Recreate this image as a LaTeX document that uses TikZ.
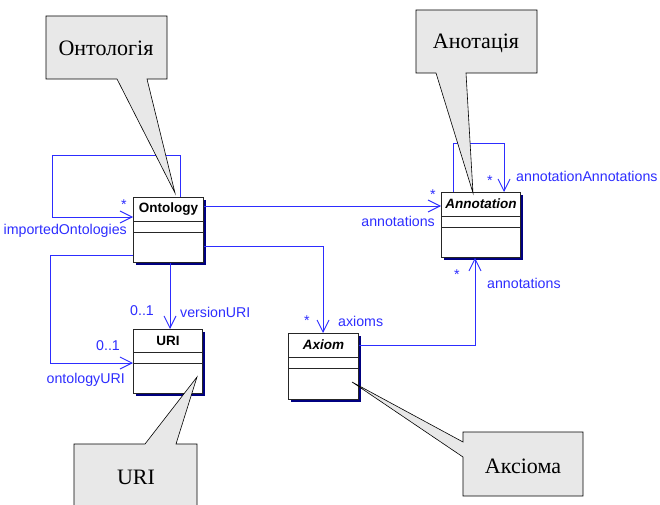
\documentclass[tikz,border=0pt]{standalone}
\usepackage{fontspec}
\setmainfont{Liberation Serif}
\setsansfont{Liberation Sans}
\usetikzlibrary{positioning,calc,arrows.meta,shadows}
\definecolor{umlblue}{RGB}{45,45,255}
\definecolor{shadownavy}{RGB}{0,0,128}
\definecolor{notegray}{RGB}{232,232,232}

\begin{document}
\begin{tikzpicture}[x=1pt,y=-1pt]
        \tikzstyle{class}=[draw=black!85, line width=0.9pt, fill=white, anchor=north west, inner sep=0pt,
            general shadow={fill=shadownavy, shadow xshift=3pt, shadow yshift=-3pt}]
        \tikzstyle{classline}=[draw=black!85, line width=0.9pt]
        \tikzstyle{classname}=[font=\sffamily\bfseries\fontsize{13.5}{15}\selectfont]
        \tikzstyle{assoc}=[draw=umlblue, line width=0.9pt, -{Straight Barb[length=12pt,width=12pt]}]
        \tikzstyle{rolelabel}=[text=umlblue, inner sep=0pt, font=\sffamily\fontsize{14.2}{16}\selectfont]
        \tikzstyle{note}=[draw=black, line width=0.6pt, fill=notegray]
        \tikzstyle{notetext}=[font=\fontsize{22}{26}\selectfont]

        \useasboundingbox (0,0) rectangle (660,505);

        % classes
        \node[class, minimum width=70pt, minimum height=65pt] (ont) at (133,197) {};
        \node[class, minimum width=69pt, minimum height=64pt] (uri) at (133,329) {};
        \node[class, minimum width=79pt, minimum height=65pt] (ann) at (441,192) {};
        \node[class, minimum width=70pt, minimum height=66pt] (ax)  at (288,333) {};

        \draw[classline] ($(ont.north west)+(0,24)$) -- ($(ont.north east)+(0,24)$);
        \draw[classline] ($(ont.north west)+(0,35)$) -- ($(ont.north east)+(0,35)$);
        \draw[classline] ($(uri.north west)+(0,23)$) -- ($(uri.north east)+(0,23)$);
        \draw[classline] ($(uri.north west)+(0,34)$) -- ($(uri.north east)+(0,34)$);
        \draw[classline] ($(ann.north west)+(0,24)$) -- ($(ann.north east)+(0,24)$);
        \draw[classline] ($(ann.north west)+(0,35)$) -- ($(ann.north east)+(0,35)$);
        \draw[classline] ($(ax.north west)+(0,24)$) -- ($(ax.north east)+(0,24)$);
        \draw[classline] ($(ax.north west)+(0,35)$) -- ($(ax.north east)+(0,35)$);

        \node[classname] (ontname) at ($(ont.north)+(0,12)$) {Ontology};
        \node[classname] (uriname) at ($(uri.north)+(0,11.5)$) {URI};
        \node[classname, font=\sffamily\bfseries\itshape\fontsize{13.5}{15}\selectfont] (annname) at ($(ann.north)+(0,12)$) {Annotation};
        \node[classname, font=\sffamily\bfseries\itshape\fontsize{13.5}{15}\selectfont] (axname) at ($(ax.north)+(0,12)$) {Axiom};

        % associations
        \draw[assoc] ($(ont.north west)+(47,0)$) -- ++(0,-42) -- ++(-128,0) |- ($(ont.north west)+(0,20)$);
        \draw[assoc] ($(ont.north east)+(0,9)$) -- ($(ann.north west)+(0,14)$);
        \draw[assoc] ($(ont.north east)+(0,49)$) -| ($(ax.north west)+(35,0)$);
        \draw[assoc] ($(ont.south west)+(37,0)$) -- ($(uri.north west)+(37,0)$);
        \draw[assoc] ($(ont.south west)+(0,-7)$) -- ++(-83,0) |- ($(uri.north west)+(0,34)$);
        \draw[assoc] ($(ann.north west)+(12,0)$) -- ++(0,-49) -| ($(ann.north west)+(63,0)$);
        \draw[assoc] ($(ax.north east)+(0,12)$) -| ($(ann.south west)+(34,0)$);

        % role names and multiplicities
        \node[rolelabel] (impmult) at (124,205) {*};
        \node[rolelabel, anchor=east] (impname) at (127,231) {importedOntologies};
        \node[rolelabel] (annmult) at (433,195) {*};
        \node[rolelabel, anchor=east] (annname1) at (435,221) {annotations};
        \node[rolelabel] (selfmult) at (490,181) {*};
        \node[rolelabel, anchor=west] (selfname) at (516,176) {annotationAnnotations};
        \node[rolelabel] (axannmult) at (457,275) {*};
        \node[rolelabel, anchor=west] (axannname) at (487,283) {annotations};
        \node[rolelabel] (axmult) at (307,321) {*};
        \node[rolelabel, anchor=west] (axname2) at (338,321) {axioms};
        \node[rolelabel] (vermult) at (142,311) {0..1};
        \node[rolelabel, anchor=west] (vername) at (180,312) {versionURI};
        \node[rolelabel] (urimult) at (108,346) {0..1};
        \node[rolelabel, anchor=east] (uriname2) at (125,380) {ontologyURI};

        % notes
        \draw[note] (46,16) -- (167,16) -- (167,79) -- (147,79) -- ($(ont.north west)+(42,-4)$) -- (117,79) -- (46,79) -- cycle;
        \node[notetext] (ontnote) at (106,48) {Онтологія};
        \draw[note] (416,10) -- (537,10) -- (537,73) -- (466,73) -- ($(ann.north west)+(32,1)$) -- (436,73) -- (416,73) -- cycle;
        \node[notetext] (annnote) at (476,43) {Анотація};
        \draw[note] (74,444) -- (145,444) -- ($(uri.north west)+(64,48)$) -- (176,444) -- (197,444) -- (197,520) -- (74,520) -- cycle;
        \node[notetext] (urinote) at (136,477) {URI};
        \draw[note] (463,432) -- (583,432) -- (583,496) -- (463,496) -- (463,457) -- ($(ax.north west)+(64,49)$) -- (463,442) -- cycle;
        \node[notetext] (axnote) at (523,466) {Аксіома};

    \end{tikzpicture}
\end{document}
